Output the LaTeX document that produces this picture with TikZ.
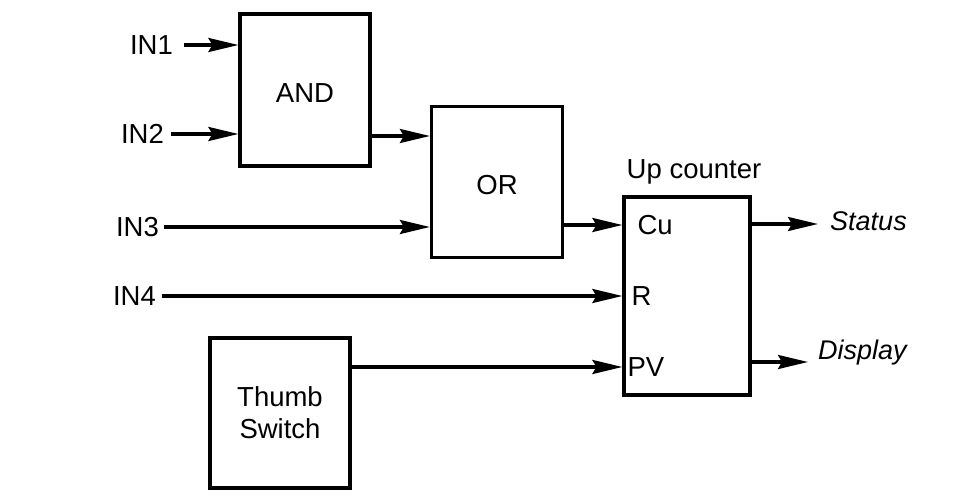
\documentclass[tikz,border=0pt]{standalone}
\usepackage{fontspec}
\setmainfont{Liberation Sans}
\usetikzlibrary{arrows.meta}
\begin{document}
\begin{tikzpicture}[x=1pt,y=-1pt,
  every node/.style={font=\fontsize{27.5}{32}\selectfont},
  blk/.style={draw,line width=3.2pt,minimum width=#1,inner sep=0pt},
  lbl/.style={inner sep=0pt},
  conn/.style={line width=3.2pt,-{Stealth[length=30pt,width=14pt,inset=4pt]}}]
\useasboundingbox (0,0) rectangle (958,495);
% blocks
\node[blk=130pt,minimum height=152pt] (and) at (305,90) {};
\node at (305,93) {AND};
\node[blk=131pt,minimum height=151pt] (or) at (497,182) {};
\node at (497,185) {OR};
\node[blk=126pt,minimum height=198pt] (cnt) at (687,296) {};
\node[lbl] (uplbl) at (694,172) {Up counter};
\node[blk=140pt,minimum height=150pt,align=center] (thumb) at (280,413) {Thumb\\Switch};
% counter ports
\node[lbl,anchor=west] (cu) at ([xshift=15pt]cnt.west |- 0,225) {Cu};
\coordinate (cuin) at (cnt.west |- cu);
\node[lbl,anchor=west] (r) at ([xshift=9pt]cnt.west |- 0,296) {R};
\coordinate (rin) at (cnt.west |- r);
\node[lbl,anchor=west] (pv) at ([xshift=5pt]cnt.west |- 0,367) {PV};
\coordinate (pvin) at (cnt.west |- pv);
% inputs
\node[lbl,anchor=east] (in1) at (173,45) {IN1};
\node[lbl,anchor=east] (in2) at (164,134) {IN2};
\node[lbl,anchor=east] (in3) at (159,227) {IN3};
\node[lbl,anchor=east] (in4) at (156,296) {IN4};
% outputs
\node[lbl,anchor=west,font=\fontsize{27}{32}\selectfont\itshape] (status) at (830,221) {Status};
\node[lbl,anchor=west,font=\fontsize{27}{32}\selectfont\itshape] (disp) at (818,353) {Display};
% connectors
\draw[conn] ([xshift=11pt]in1.east) -- (in1.east -| and.west);
\draw[conn] ([xshift=7pt]in2.east) -- (in2.east -| and.west);
\draw[conn] (and.east |- 0,136) -- (or.west |- 0,136);
\draw[conn] ([xshift=5pt]in3.east) -- (in3.east -| or.west);
\draw[conn] (or.east |- cuin) -- (cuin);
\draw[conn] ([xshift=6pt]in4.east) -- (rin);
\draw[conn] (thumb.east |- pvin) -- (pvin);
\draw[conn] (cnt.east |- 0,224) -- ([xshift=-12pt]status.west |- 0,224);
\draw[conn] (cnt.east |- 0,362) -- ([xshift=-10pt]disp.west |- 0,362);
\end{tikzpicture}
\end{document}
